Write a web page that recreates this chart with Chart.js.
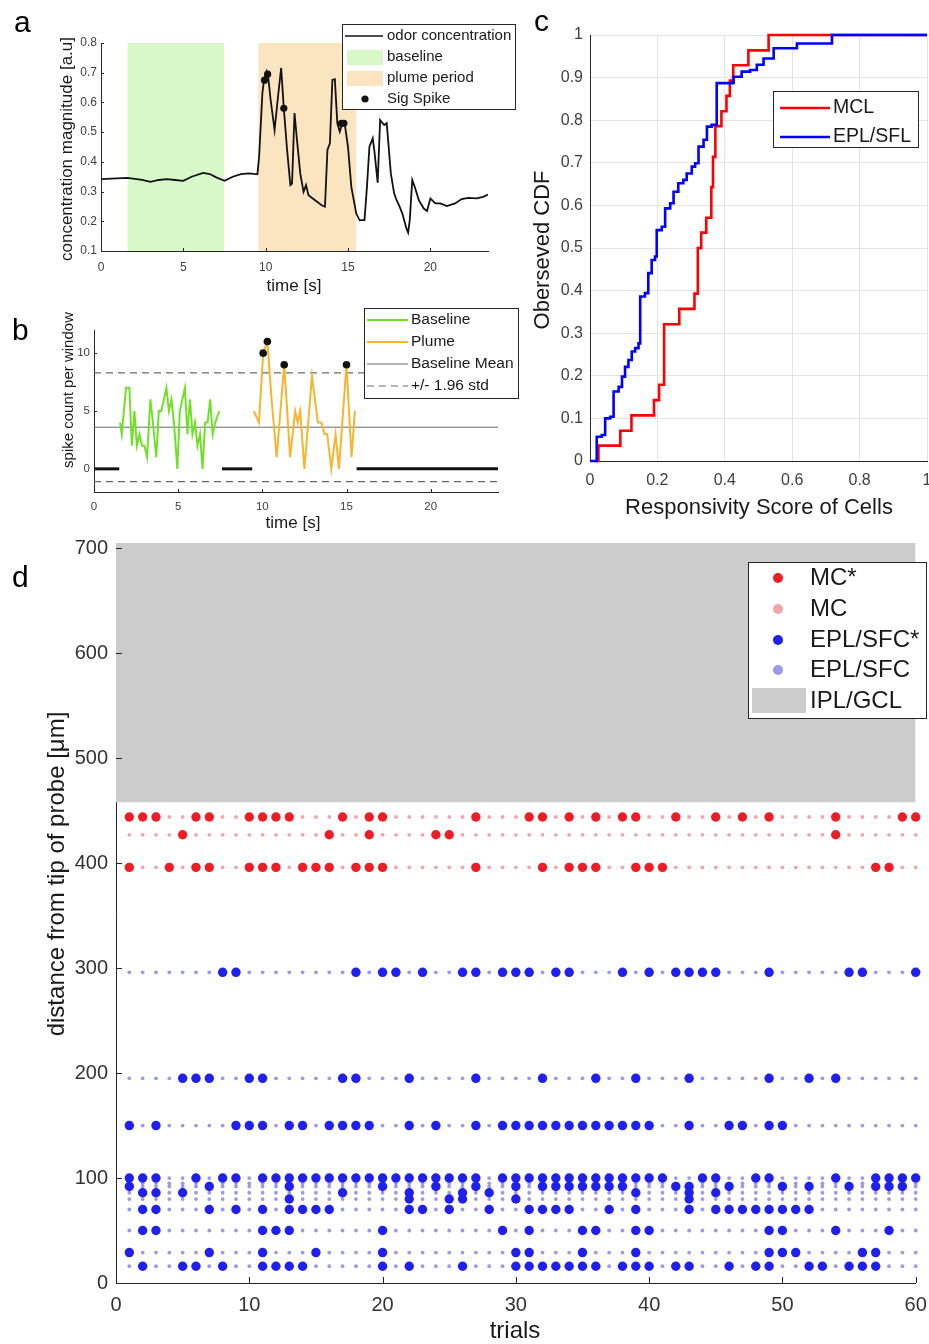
<!DOCTYPE html>
<html><head><meta charset="utf-8">
<script src="https://cdn.jsdelivr.net/npm/chart.js@4.4.1/dist/chart.umd.min.js"></script>
<style>
html,body{margin:0;padding:0;background:#fff;}
body{width:929px;height:1344px;overflow:hidden;position:relative;}
canvas{position:absolute;}
.pl{position:absolute;font-family:'Liberation Sans',Arial,sans-serif;font-size:30px;line-height:1;color:#000;}
</style></head><body>
<canvas id="ca" width="520" height="300" style="left:0;top:0"></canvas>
<canvas id="cb" width="520" height="240" style="left:0;top:300px"></canvas>
<canvas id="cc" width="420" height="530" style="left:530px;top:0"></canvas>
<canvas id="cd" width="929" height="814" style="left:0;top:530px"></canvas>
<div class="pl" style="left:14px;top:7px">a</div>
<div class="pl" style="left:12px;top:315px">b</div>
<div class="pl" style="left:534px;top:6px">c</div>
<div class="pl" style="left:12px;top:562px">d</div>
<script>
// ================= DATA =================
// Panel a
const timeA = [0,1.6,2.5,3,3.5,4,4.5,5,5.5,6.2,6.6,7,7.5,8,8.5,9,9.5,9.6,9.8,9.9,10.05,10.15,10.3,10.54,10.75,10.94,11.1,11.3,11.5,11.6,11.75,11.9,12.1,12.3,12.45,12.6,13,13.4,13.6,13.75,13.9,14.05,14.2,14.35,14.5,14.65,14.8,15,15.2,15.5,15.7,16,16.15,16.3,16.5,16.6,16.8,16.95,17.1,17.2,17.35,17.6,17.8,17.95,18.1,18.3,18.55,18.65,18.75,18.9,19.05,19.3,19.6,19.8,20,20.3,20.6,21,21.5,21.9,22.3,22.8,23.2,23.5];
const concA = [0.342,0.346,0.339,0.333,0.339,0.342,0.339,0.336,0.35,0.363,0.359,0.348,0.336,0.35,0.359,0.361,0.358,0.417,0.631,0.676,0.704,0.687,0.609,0.507,0.62,0.716,0.581,0.44,0.322,0.327,0.564,0.474,0.361,0.299,0.322,0.288,0.271,0.254,0.249,0.44,0.462,0.676,0.678,0.53,0.502,0.53,0.528,0.45,0.316,0.226,0.204,0.204,0.316,0.451,0.479,0.437,0.33,0.541,0.53,0.524,0.53,0.361,0.294,0.271,0.254,0.226,0.175,0.162,0.204,0.339,0.316,0.271,0.243,0.235,0.277,0.26,0.26,0.251,0.26,0.275,0.279,0.277,0.282,0.29];
const sigTimeA = [9.93,10.12,11.1,14.6,14.75];
const sigConcA = [0.675,0.695,0.58,0.53,0.53];
const baselineWinA = [1.6,7.5];
const plumeWinA = [9.55,15.5];
const yRangeA = [0.1,0.8];
const xTicksA = [0,5,10,15,20];
const yTicksA = [0.1,0.2,0.3,0.4,0.5,0.6,0.7,0.8];
const legendA = ['odor concentration','baseline','plume period','Sig Spike'];

// Panel b
const tBaseB = [1.55,1.65,1.9,2.1,2.25,2.4,2.55,2.7,2.85,3.0,3.15,3.35,3.5,3.7,3.85,4.0,4.15,4.3,4.45,4.6,4.75,4.95,5.1,5.25,5.4,5.55,5.7,5.85,6.0,6.15,6.3,6.45,6.6,6.75,6.9,7.05,7.2,7.45];
const cntBaseB = [4,3,7,7,2,5,2,3,2,2,1,6,4,1,5,5,6,7,5,6,4,0,5,6,7,3,6,3,4,2,3,0,4,4,6,3,4,5];
const tPlumeB = [9.5,9.8,10.05,10.3,10.55,10.85,11.3,11.65,11.95,12.1,12.25,12.5,12.95,13.3,13.5,13.7,13.85,14.1,14.35,14.55,15.0,15.3,15.5];
const cntPlumeB = [5,4,10,11,6,1,9,1,5,4,5,0,8,4,4,3,3,0,3,0,9,1,5];
const sigTimeB = [10.05,10.3,11.3,15.0];
const sigCntB = [10,11,9,9];
const zeroSegsB = [[0,1.5],[7.6,9.4],[15.6,24]];
const meanB = 3.6, upperB = 8.3, lowerB = -1.1;
const xRangeB = [0,24], yRangeB = [-2,12];
const xTicksB = [0,5,10,15,20];
const yTicksB = [0,5,10];
const legendB = ['Baseline','Plume','Baseline Mean','+/- 1.96 std'];

// Panel c
const mclX = [0.015,0.025,0.09,0.123,0.19,0.205,0.22,0.265,0.31,0.32,0.33,0.345,0.36,0.365,0.372,0.39,0.405,0.415,0.425,0.47,0.53,1.0];
const mclY = [0,0.036,0.071,0.107,0.143,0.179,0.321,0.357,0.393,0.5,0.536,0.571,0.643,0.714,0.786,0.821,0.857,0.893,0.929,0.964,1.0,1.0];
const eplX = [0,0.02,0.035,0.045,0.06,0.07,0.085,0.095,0.104,0.114,0.124,0.134,0.144,0.149,0.163,0.173,0.183,0.193,0.198,0.213,0.223,0.238,0.248,0.262,0.277,0.287,0.302,0.312,0.322,0.337,0.347,0.361,0.376,0.406,0.426,0.45,0.475,0.495,0.515,0.545,0.584,0.614,0.703,0.718,1.0];
const eplY = [0,0.057,0.061,0.1,0.104,0.163,0.174,0.198,0.221,0.237,0.257,0.265,0.276,0.386,0.394,0.441,0.472,0.48,0.542,0.55,0.593,0.605,0.632,0.652,0.66,0.675,0.691,0.699,0.738,0.754,0.785,0.789,0.887,0.887,0.902,0.914,0.918,0.93,0.945,0.969,0.969,0.98,0.98,1.0,1.0];
const xTicksC = [0,0.2,0.4,0.6,0.8,1];
const yTicksC = [0,0.1,0.2,0.3,0.4,0.5,0.6,0.7,0.8,0.9,1];
const legendC = ['MCL','EPL/SFL'];

// Panel d
const trials = [1,2,3,4,5,6,7,8,9,10,11,12,13,14,15,16,17,18,19,20,21,22,23,24,25,26,27,28,29,30,31,32,33,34,35,36,37,38,39,40,41,42,43,44,45,46,47,48,49,50,51,52,53,54,55,56,57,58,59,60];
const mcDepths = [444,427,396];
const mcSig = [
 [1,2,3,6,7,10,11,12,13,17,19,20,27,31,32,34,36,38,39,42,45,47,49,54,59,60],
 [5,16,19,24,25,54],
 [1,4,6,7,10,11,12,14,15,16,18,19,20,27,32,34,35,36,39,40,41,57,58]
];
const eplDepths = [296,195,150,100,95,92,86,80,70,50,29,16];
const eplSig = [
 [8,9,18,20,21,23,26,27,29,30,31,33,34,38,40,42,43,44,45,49,55,56,60],
 [5,6,7,10,11,17,18,22,27,32,36,39,43,49,52,54],
 [1,3,9,10,11,13,14,16,17,18,19,22,24,27,29,30,31,32,33,34,35,36,37,38,39,40,43,46,47,49,50],
 [1,2,3,6,8,9,11,12,13,14,15,16,17,18,19,20,21,22,23,24,25,26,27,29,30,31,32,33,34,35,36,37,38,39,40,41,44,45,48,49,54,57,58,59,60],
 [],
 [1,7,13,20,24,27,30,32,33,34,35,36,37,38,42,43,46,50,52,55,57,58,59],
 [2,3,5,17,22,26,28,39,43,45],
 [13,22,25,26,30,43],
 [2,3,7,9,11,13,14,15,16,22,23,25,28,31,32,33,34,37,39,43,45,46,47,48,49,50,51,52],
 [2,3,11,12,13,20,29,31,35,36,39,40,49,50,54,58],
 [1,7,11,15,20,30,31,35,39,49,50,51,56,57],
 [2,5,6,8,11,12,13,14,20,22,26,30,31,32,33,34,35,36,38,39,40,42,43,46,48,49,52,53,55,56,57]
];
const iplRange = [458,705];
const xRangeD = [0,60];
const xTicksD = [0,10,20,30,40,50,60];
const yTicksD = [0,100,200,300,400,500,600,700];
const legendD = ['MC*','MC','EPL/SFC*','EPL/SFC','IPL/GCL'];

// ================= STYLE / HELPERS =================
const FONT = "'Liberation Sans', Arial, Helvetica, sans-serif";
Chart.defaults.font.family = FONT;
Chart.defaults.color = '#404040';
const C = {
  line:'#111111', base:'#d9f8c9', plume:'#fbe5c0',
  green:'#72e02a', orange:'#f6b52e', ref:'#6a6a6a',
  red:'#ff0000', blue:'#0000ff',
  mcSig:'#ee1c25', mcNs:'#f3a3aa', eplSig:'#2020ee', eplNs:'#9a9ae6', gray:'#cccccc', axis:'#262626'
};
const pts = (xs, ys) => xs.map((x,i)=>({x, y:ys[i]}));

function axes(o){
  const mk = (isX) => ({
    type:'linear',
    min: isX?o.xr[0]:o.yr[0], max: isX?o.xr[1]:o.yr[1],
    afterFit: isX ? (s=>{s.height=o.H-o.area.b;}) : (s=>{s.width=o.area.l;}),
    afterBuildTicks: s=>{ s.ticks = (isX?o.xt:o.yt).map(v=>({value:v})); },
    grid:{display:!!o.grid, color:o.grid||'transparent', lineWidth:1, drawTicks:true, tickLength:isX?o.xpad:o.ypad, tickColor:'transparent'},
    border:{display:true, color:C.axis, width:1},
    ticks:{padding:0, font:{size:o.font}, color:o.tc||'#404040', maxRotation:0, autoSkip:false, callback:v=>String(v)}
  });
  return {x:mk(true), y:mk(false)};
}
function baseOpts(o){
  return {
    responsive:false, animation:false, devicePixelRatio:1,
    layout:{padding:{left:0, top:o.area.t, right:o.W-o.area.r, bottom:0}},
    plugins:{legend:{display:false}, tooltip:{enabled:false}},
    scales: axes(o)
  };
}
function txt(ctx, s, x, y, size, opt={}){
  ctx.save();
  ctx.font = `${size}px ${FONT}`;
  ctx.fillStyle = opt.color || '#1a1a1a';
  ctx.textAlign = opt.align || 'left';
  ctx.textBaseline = 'middle';
  if (opt.rot){ ctx.translate(x,y); ctx.rotate(opt.rot); ctx.fillText(s,0,0); }
  else ctx.fillText(s,x,y);
  ctx.restore();
}
function lbox(ctx,x,y,w,h){
  ctx.save(); ctx.fillStyle='#fff'; ctx.fillRect(x,y,w,h);
  ctx.strokeStyle=C.axis; ctx.lineWidth=1; ctx.strokeRect(x+0.5,y+0.5,w,h); ctx.restore();
}
function seg(ctx,x1,y1,x2,y2,color,w,dash){
  ctx.save(); ctx.strokeStyle=color; ctx.lineWidth=w; if(dash) ctx.setLineDash(dash);
  ctx.beginPath(); ctx.moveTo(x1,y1); ctx.lineTo(x2,y2); ctx.stroke(); ctx.restore();
}
function dot(ctx,x,y,r,color){ ctx.save(); ctx.fillStyle=color; ctx.beginPath(); ctx.arc(x,y,r,0,Math.PI*2); ctx.fill(); ctx.restore(); }
function inTicks(len){
  return {id:'inticks', afterDatasetsDraw(chart){
    const {ctx, chartArea:a, scales:{x,y}} = chart;
    ctx.save(); ctx.strokeStyle=C.axis; ctx.lineWidth=1; ctx.beginPath();
    x.ticks.forEach(t=>{const p=Math.round(x.getPixelForValue(t.value))+0.5; ctx.moveTo(p,a.bottom); ctx.lineTo(p,a.bottom-len);});
    y.ticks.forEach(t=>{const p=Math.round(y.getPixelForValue(t.value))+0.5; ctx.moveTo(a.left,p); ctx.lineTo(a.left+len,p);});
    ctx.stroke(); ctx.restore();
  }};
}
const lineDs = (data, color, w, extra={}) => Object.assign({data, showLine:true, borderColor:color, borderWidth:w, pointRadius:0, tension:0, fill:false}, extra);
const dotDs = (data, color, r) => ({data, showLine:false, pointRadius:r, pointBackgroundColor:color, pointBorderWidth:0, pointBorderColor:color, clip:false});

// ================= PANEL A =================
(function(){
  const o = {W:520,H:300,area:{l:101,t:43,r:488,b:251},xr:[0,23.5],yr:yRangeA,xt:xTicksA,yt:yTicksA,font:12,xpad:9,ypad:4};
  new Chart(document.getElementById('ca'), {
    type:'line',
    data:{datasets:[
      dotDs(pts(sigTimeA,sigConcA), C.line, 3.6),
      lineDs(pts(timeA,concA), C.line, 1.8),
      lineDs([{x:plumeWinA[0],y:yRangeA[1]},{x:plumeWinA[1],y:yRangeA[1]}], 'transparent', 0, {fill:{value:yRangeA[0]}, backgroundColor:C.plume}),
      lineDs([{x:baselineWinA[0],y:yRangeA[1]},{x:baselineWinA[1],y:yRangeA[1]}], 'transparent', 0, {fill:{value:yRangeA[0]}, backgroundColor:C.base})
    ]},
    options: baseOpts(o),
    plugins:[inTicks(3), {id:'decoA', afterDraw(chart){
      const ctx = chart.ctx;
      txt(ctx,'concentration magnitude [a.u]',67,149,17,{align:'center',rot:-Math.PI/2});
      txt(ctx,'time [s]',294,286,17,{align:'center'});
      lbox(ctx,342,24,173,85);
      seg(ctx,345,36,383,36,C.line,1.6);
      ctx.fillStyle=C.base; ctx.fillRect(347,50,36,15);
      ctx.fillStyle=C.plume; ctx.fillRect(347,71,36,15);
      dot(ctx,365,99,3.6,C.line);
      const ys=[36,57,78,99];
      legendA.forEach((s,i)=>txt(ctx,s,387,ys[i],15));
    }}]
  });
})();

// ================= PANEL B =================
(function(){
  const o = {W:520,H:240,area:{l:94,t:30,r:498,b:192},xr:xRangeB,yr:yRangeB,xt:xTicksB,yt:yTicksB,font:11.5,xpad:8,ypad:4};
  const hl = (v) => [{x:xRangeB[0],y:v},{x:xRangeB[1],y:v}];
  const ds = [
    dotDs(pts(sigTimeB,sigCntB), C.line, 3.8),
    lineDs(pts(tBaseB,cntBaseB), C.green, 2),
    lineDs(pts(tPlumeB,cntPlumeB), C.orange, 2),
  ];
  zeroSegsB.forEach(sg=>ds.push(lineDs([{x:sg[0],y:0},{x:sg[1],y:0}], C.line, 3)));
  ds.push(lineDs(hl(meanB), C.ref, 1));
  ds.push(lineDs(hl(upperB), C.ref, 1.2, {borderDash:[7,5]}));
  ds.push(lineDs(hl(lowerB), C.ref, 1.2, {borderDash:[7,5]}));
  new Chart(document.getElementById('cb'), {
    type:'line', data:{datasets:ds}, options: baseOpts(o),
    plugins:[inTicks(3), {id:'decoB', afterDraw(chart){
      const ctx = chart.ctx;
      txt(ctx,'spike count per window',69,90,15,{align:'center',rot:-Math.PI/2});
      txt(ctx,'time [s]',293,223,17,{align:'center'});
      lbox(ctx,364,8,154,90);
      const ys=[20,42,64,86];
      seg(ctx,367,ys[0],408,ys[0],C.green,2);
      seg(ctx,367,ys[1],408,ys[1],C.orange,2);
      seg(ctx,367,ys[2],408,ys[2],C.ref,1);
      seg(ctx,367,ys[3],408,ys[3],C.ref,1.2,[7,5]);
      legendB.forEach((s,i)=>txt(ctx,s,411,ys[i],15.5));
    }}]
  });
})();

// ================= PANEL C =================
(function(){
  const o = {W:420,H:530,area:{l:60,t:35,r:397,b:461},xr:[0,1],yr:[0,1],xt:xTicksC,yt:yTicksC,font:16,xpad:10,ypad:7,grid:'#e4e4e4'};
  new Chart(document.getElementById('cc'), {
    type:'line',
    data:{datasets:[
      lineDs(pts(eplX,eplY), C.blue, 2.6, {stepped:'before', clip:false}),
      lineDs(pts(mclX,mclY), C.red, 2.6, {stepped:'before', clip:false})
    ]},
    options: baseOpts(o),
    plugins:[{id:'decoC', afterDraw(chart){
      const ctx = chart.ctx;
      txt(ctx,'Oberseved CDF',13,250,22,{align:'center',rot:-Math.PI/2});
      txt(ctx,'Responsivity Score of Cells',229,508,22,{align:'center'});
      lbox(ctx,243,91,145,56);
      seg(ctx,250,108,300,108,C.red,2.6);
      seg(ctx,250,137,300,137,C.blue,2.6);
      txt(ctx,legendC[0],303,108,19.5);
      txt(ctx,legendC[1],303,137,19.5);
    }}]
  });
})();

// ================= PANEL D =================
(function(){
  const o = {W:929,H:814,area:{l:116,t:13,r:915.7,b:753},xr:xRangeD,yr:[0,iplRange[1]],xt:xTicksD,yt:yTicksD,font:20,xpad:10,ypad:8,tc:'#333'};
  function rowPts(depths, sig, wantSig){
    const out=[];
    depths.forEach((d,i)=>trials.forEach(t=>{ if(sig[i].includes(t)===wantSig) out.push({x:t,y:d}); }));
    return out;
  }
  new Chart(document.getElementById('cd'), {
    type:'line',
    data:{datasets:[
      dotDs(rowPts(mcDepths,mcSig,true), C.mcSig, 4.7),
      dotDs(rowPts(eplDepths,eplSig,true), C.eplSig, 4.7),
      dotDs(rowPts(mcDepths,mcSig,false), C.mcNs, 1.9),
      dotDs(rowPts(eplDepths,eplSig,false), C.eplNs, 1.9),
      lineDs([{x:xRangeD[0],y:iplRange[1]},{x:xRangeD[1],y:iplRange[1]}], 'transparent', 0, {fill:{value:iplRange[0]}, backgroundColor:C.gray})
    ]},
    options: baseOpts(o),
    plugins:[inTicks(6), {id:'decoD', afterDraw(chart){
      const ctx = chart.ctx;
      txt(ctx,'distance from tip of probe [\u03bcm]',57,344,24,{align:'center',rot:-Math.PI/2});
      txt(ctx,'trials',515,801,24,{align:'center'});
      lbox(ctx,748,32,178,156);
      const ys=[48,79,110,140,171];
      dot(ctx,778,ys[0],5,C.mcSig);
      dot(ctx,778,ys[1],5,C.mcNs);
      dot(ctx,778,ys[2],5,C.eplSig);
      dot(ctx,778,ys[3],5,C.eplNs);
      ctx.fillStyle=C.gray; ctx.fillRect(752,158,54,25);
      legendD.forEach((s,i)=>txt(ctx,s,810,ys[i],24));
    }}]
  });
})();
</script>
</body></html>
